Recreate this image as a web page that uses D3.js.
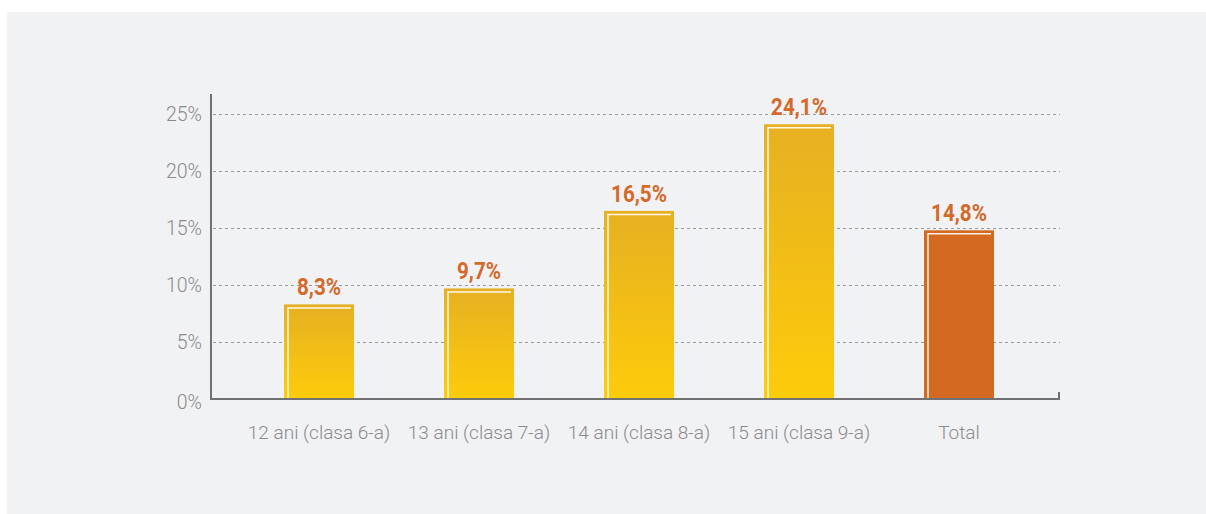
<!DOCTYPE html>
<html lang="ro">
<head>
    <meta charset="UTF-8">
    <title>Ponderea pe vârste</title>
    <script src="https://d3js.org/d3.v7.min.js"></script>
    <style>
        html, body {
            margin: 0;
            padding: 0;
            background: #ffffff;
        }
        svg {
            display: block;
        }
        .tick-label {
            font-family: Roboto, "Open Sans", sans-serif;
            font-weight: 300;
            fill: #8a8a8c;
        }
        .value-label {
            font-family: Roboto, sans-serif;
            font-weight: 700;
            fill: #d4692a;
        }
    </style>
</head>
<body>
<div id="chart"></div>

<script>
    // data
    var categories = ["12 ani (clasa 6-a)", "13 ani (clasa 7-a)", "14 ani (clasa 8-a)", "15 ani (clasa 9-a)", "Total"];
    var values = [8.3, 9.7, 16.5, 24.1, 14.8];
    var valueLabels = ["8,3%", "9,7%", "16,5%", "24,1%", "14,8%"];
    var yTicks = [0, 5, 10, 15, 20, 25];

    var W = 1206, H = 514;

    var svg = d3.select("#chart")
        .append("svg")
        .attr("width", W)
        .attr("height", H);

    // grey panel
    svg.append("rect")
        .attr("x", 7)
        .attr("y", 12)
        .attr("width", W - 7)
        .attr("height", H - 12)
        .attr("fill", "#f1f2f4");

    var defs = svg.append("defs");
    var grad = defs.append("linearGradient")
        .attr("id", "barGrad")
        .attr("x1", 0).attr("y1", 0)
        .attr("x2", 0).attr("y2", 1);
    grad.append("stop").attr("offset", "0%").attr("stop-color", "#e6b022");
    grad.append("stop").attr("offset", "100%").attr("stop-color", "#fdcc0a");

    var axisLeftX = 211, axisRightX = 1059, baseY = 399;

    var x = d3.scaleBand()
        .domain(categories)
        .range([239, 1039])
        .paddingInner(0.5625)
        .paddingOuter(0.28125);

    var y = d3.scaleLinear()
        .domain([0, 25])
        .range([baseY, 114]);

    // dashed grid lines
    svg.append("g")
        .selectAll("line")
        .data(yTicks.filter(function (d) { return d > 0; }))
        .enter()
        .append("line")
        .attr("x1", axisLeftX + 2)
        .attr("x2", axisRightX + 1)
        .attr("y1", function (d) { return Math.round(y(d)) + 0.5; })
        .attr("y2", function (d) { return Math.round(y(d)) + 0.5; })
        .attr("stroke", "#9a9a9c")
        .attr("stroke-width", 1.2)
        .attr("stroke-dasharray", "3,3");

    // y tick labels
    svg.append("g")
        .selectAll("text")
        .data(yTicks)
        .enter()
        .append("text")
        .attr("class", "tick-label")
        .attr("x", 202)
        .attr("y", function (d) { return y(d); })
        .attr("dy", d => d === 0 ? "0.5em" : "0.36em")
        .attr("text-anchor", "end")
        .style("font-size", "19.5px")
        .text(function (d) { return d + "%"; });

    // bars
    var bars = svg.append("g")
        .selectAll("g")
        .data(values)
        .enter()
        .append("g");

    bars.append("rect")
        .attr("x", function (d, i) { return x(categories[i]); })
        .attr("y", function (d) { return y(d); })
        .attr("width", x.bandwidth())
        .attr("height", function (d) { return baseY - y(d); })
        .attr("fill", function (d, i) { return i === categories.length - 1 ? "#d46a21" : "url(#barGrad)"; });

    // thin white inner line along the left and top edge
    bars.append("path")
        .attr("d", function (d, i) {
            var x0 = x(categories[i]) + 4,
                y0 = y(d) + 3.5,
                x1 = x(categories[i]) + x.bandwidth() - 3;
            return "M" + x0 + "," + baseY + "V" + y0 + "H" + x1;
        })
        .attr("fill", "none")
        .attr("stroke", "#ffffff")
        .attr("stroke-opacity", 0.9)
        .attr("stroke-width", 1.5);

    // value labels above bars
    bars.append("text")
        .attr("class", "value-label")
        .attr("transform", function (d, i) {
            return "translate(" + (x(categories[i]) + x.bandwidth() / 2) + "," + (y(d) - 9) + ") scale(0.86,1)";
        })
        .attr("text-anchor", "middle")
        .style("font-size", "24px")
        .text(function (d, i) { return valueLabels[i]; });

    // x category labels
    svg.append("g")
        .selectAll("text")
        .data(categories)
        .enter()
        .append("text")
        .attr("class", "tick-label")
        .attr("x", function (d) { return x(d) + x.bandwidth() / 2; })
        .attr("y", 439)
        .attr("text-anchor", "middle")
        .style("font-size", "19px")
        .text(function (d) { return d; });

    // axes lines
    svg.append("path")
        .attr("d", "M" + axisLeftX + ",94V" + baseY + "H" + axisRightX + "V392")
        .attr("fill", "none")
        .attr("stroke", "#707173")
        .attr("stroke-width", 2);
</script>
</body>
</html>
